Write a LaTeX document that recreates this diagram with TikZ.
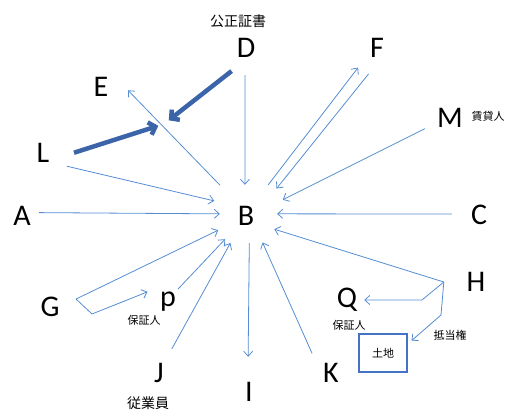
\documentclass[tikz,border=0pt]{standalone}
\usepackage{fontspec}
\setmainfont{Carlito}
\newfontfamily\jp{Noto Sans CJK JP}
\usetikzlibrary{arrows.meta}
\definecolor{linkblue}{RGB}{84,141,212}
\definecolor{boldblue}{RGB}{59,101,168}
\definecolor{boxblue}{RGB}{68,114,196}
\begin{document}
\begin{tikzpicture}[x=1pt,y=-1pt,
    letter/.style={circle,inner sep=0pt,minimum size=54pt,font=\fontsize{30}{30}\selectfont},
    hub/.style={circle,inner sep=0pt,minimum size=62pt,font=\fontsize{30}{30}\selectfont},
    note/.style={inner sep=0pt,font=\jp\fontsize{11}{11}\selectfont},
    bignote/.style={inner sep=0pt,font=\jp\fontsize{14}{14}\selectfont},
    link/.style={draw=linkblue,line width=0.8pt,-{Straight Barb[length=5pt,width=9pt]}},
    bold/.style={draw=boldblue,line width=4.5pt,-{Straight Barb[length=6pt,width=13pt]},shorten >=6pt}]
  \useasboundingbox (0,0) rectangle (507,412);
  \node[hub] (B) at (246,216) {B};
  \node[letter] (D) at (246,48) {D};
  \node[letter] (E) at (101,87) {E};
  \node[letter] (L) at (43,153) {L};
  \node[letter] (A) at (22,216) {A};
  \node[letter] (F) at (377,48) {F};
  \node[letter] (M) at (450,118) {M};
  \node[letter] (C) at (479,215) {C};
  \node[letter] (G) at (50,307) {G};
  \node[letter] (p) at (168,302) {p};
  \node[letter] (J) at (159,373) {J};
  \node[letter] (I) at (249,392) {I};
  \node[letter] (K) at (331,373) {K};
  \node[letter] (Q) at (347,300) {Q};
  \node[letter] (H) at (476,282) {H};
  \node[bignote] (notary) at (238,21) {公正証書};
  \node[note] (lessor) at (488,116) {賃貸人};
  \node[note] (pguar) at (144,320) {保証人};
  \node[bignote] (staff) at (148,403) {従業員};
  \node[note] (qguar) at (349,325) {保証人};
  \node[note] (mortgage) at (450,335) {抵当権};
  \node[note,draw=boxblue,line width=1.5pt,minimum width=48pt,minimum height=38pt] (land) at (383,353) {土地};
  \coordinate (dl) at (164,124);
  \coordinate (gbend) at (92,314);
  \coordinate (hj) at ([xshift=-5pt]H.180);
  \coordinate (qbend) at (422,300);
  \coordinate (lbend) at (441,315);
  \draw[link] (D.268) -- (B.92);
  \draw[link,shorten <=9pt] (B.129) -- (E.353);
  \draw[link,shorten >=4pt] (L.331) -- (B.153);
  \draw[bold] (D.238) -- (dl);
  \draw[bold,shorten <=4pt] (L.358) -- (dl);
  \draw[link,shorten <=7pt] (B.55) -- (F.226);
  \draw[link,shorten >=10pt] (F.252) -- (B.39);
  \draw[link,shorten >=9pt] (M.203) -- (B.23);
  \draw[link,shorten <=-10pt,shorten >=-5pt] (A.7) -- (B.176);
  \draw[link] (C.178) -- (B.4);
  \draw[link] (G.17) -- (B.207);
  \draw[link,shorten >=-6pt] (G.17) -- (gbend) -- (p.163);
  \draw[link,shorten <=-11pt] (p.50) -- (B.228);
  \draw[link] (J.62) -- (B.240);
  \draw[link,shorten <=-4pt,shorten >=8pt] (B.276) -- (I.92);
  \draw[link] (K.134) -- (B.302);
  \draw[link] (hj) -- (B.335);
  \draw[link,shorten >=-10pt] (hj) -- (qbend) -- (Q.0);
  \draw[link,shorten >=5pt] (hj) -- (lbend) -- (land.20);
\end{tikzpicture}
\end{document}
